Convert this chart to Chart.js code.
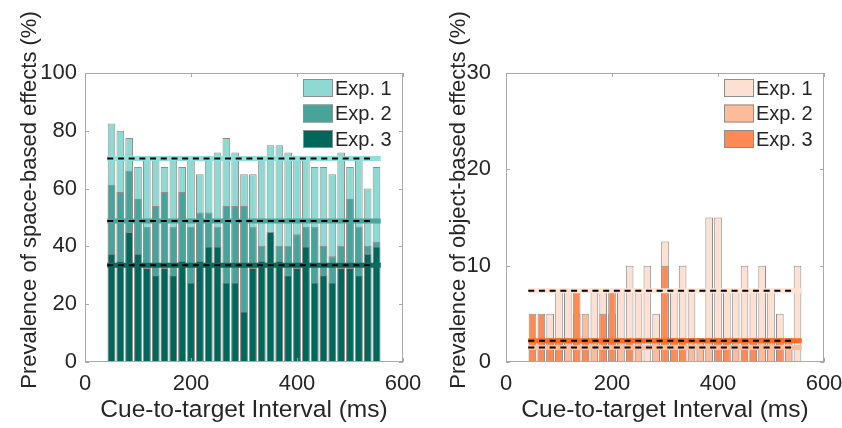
<!DOCTYPE html>
<html><head><meta charset="utf-8">
<script src="https://cdn.jsdelivr.net/npm/chart.js@4.4.1/dist/chart.umd.min.js"></script>
<style>
html,body{margin:0;padding:0;background:#fff;}
#wrap{position:relative;width:842px;height:428px;overflow:hidden;}
canvas{position:absolute;top:0;}
#c1{left:0;} #c2{left:421px;}
</style></head><body>
<div id="wrap"><canvas id="c1" width="421" height="428"></canvas><canvas id="c2" width="421" height="428"></canvas></div>
<script>
// ---- data ----
const intervals = [50, 66.7, 83.3, 100, 116.7, 133.3, 150, 166.7, 183.3, 200, 216.7, 233.3, 250, 266.7, 283.3, 300, 316.7, 333.3, 350, 366.7, 383.3, 400, 416.7, 433.3, 450, 466.7, 483.3, 500, 516.7, 533.3, 550];
const seriesNames = ['Exp. 1', 'Exp. 2', 'Exp. 3'];

const spaceExp1 = [82.5, 80, 77.5, 67.5, 70, 70, 67.5, 70, 67.5, 70, 65, 70, 72.5, 77.5, 72.5, 65, 65, 70, 75, 75, 72.5, 70, 70, 67.5, 67.5, 65, 72.5, 67.5, 70, 60, 67.5];
const spaceExp2 = [61.3, 58.8, 66.2, 56.4, 46.8, 54, 58.8, 46.8, 58.8, 46.8, 51.7, 51.7, 46.8, 54, 54, 54, 46.8, 40.2, 44, 40.2, 40.2, 44.2, 46.8, 46.8, 40.2, 36.6, 40.2, 56.4, 46.8, 40.2, 41.6];
const spaceExp3 = [37.5, 35, 45, 37.5, 32.5, 30, 32.5, 30, 35, 27.5, 35, 40, 40, 27.5, 27.5, 17.5, 32.5, 35, 45, 35, 30, 32.5, 40, 27.5, 30, 27.5, 32.5, 32.5, 30, 37.5, 40];
const spaceMeans = [70.4, 48.8, 33.5];

const objectExp1 = [2.5, 2.5, 5, 7.5, 7.5, 5, 2.5, 7.5, 7.5, 5, 7.5, 10, 7.5, 10, 5, 12.5, 7.5, 10, 7.5, 2.5, 15, 15, 7.5, 7.5, 10, 7.5, 10, 7.5, 5, 2.5, 10];
const objectExp2 = [0, 0, 2.5, 2.5, 2.5, 0, 5, 2.5, 0, 0, 2.5, 0, 2.5, 0, 2.5, 0, 2.5, 0, 2.5, 2.5, 2.5, 0, 0, 2.5, 0, 2.5, 2.5, 2.5, 0, 2.5, 0];
const objectExp3 = [5, 5, 2.5, 2.5, 0, 7.5, 2.5, 0, 5, 7.5, 0, 2.5, 0, 0, 0, 10, 2.5, 2.5, 0, 0, 0, 2.5, 2.5, 0, 2.5, 2.5, 0, 0, 2.5, 0, 0];
const objectMeans = [7.4, 1.5, 2.2];

const meanLineStart = 42, meanLineEnd = 558, meanDashEnd = 542;
const xTicksMax = 600, xStep = 200;

// ---- styling ----
const FAMILY = "'Liberation Sans', Arial, Helvetica, sans-serif";
const TXT = '#262626';
const FRAME = '#a9a9a9';
const BAR_EDGE = '#8e8e8e';
Chart.defaults.font.family = FAMILY;

const framePlugin = {
  id: 'frameLegend',
  afterDatasetsDraw(chart, args, opts) {
    const {ctx, chartArea: a, scales: {x, y}} = chart;
    ctx.save();
    ctx.strokeStyle = FRAME; ctx.lineWidth = 1;
    ctx.strokeRect(a.left + 0.5, a.top + 0.5, a.right - a.left - 1, a.bottom - a.top - 1);
    const tl = 4;
    ctx.beginPath();
    x.ticks.forEach(t => {
      const px = Math.round(x.getPixelForValue(t.value)) + 0.5;
      ctx.moveTo(px, a.bottom); ctx.lineTo(px, a.bottom - tl);
      ctx.moveTo(px, a.top); ctx.lineTo(px, a.top + tl);
    });
    y.ticks.forEach(t => {
      const py = Math.round(y.getPixelForValue(t.value)) + 0.5;
      ctx.moveTo(a.left, py); ctx.lineTo(a.left + tl, py);
      ctx.moveTo(a.right, py); ctx.lineTo(a.right - tl, py);
    });
    ctx.stroke();
    // legend
    const bars = chart.data.datasets.filter(d => d.isBar);
    const lx = a.right - 100;
    const offs = [6, 31.5, 57];
    ctx.font = '20px ' + FAMILY;
    ctx.textBaseline = 'middle';
    ctx.textAlign = 'left';
    bars.forEach((d, i) => {
      const ly = a.top + offs[i];
      ctx.fillStyle = d.backgroundColor;
      ctx.fillRect(lx, ly, 30, 18);
      ctx.strokeStyle = BAR_EDGE;
      ctx.strokeRect(lx + 0.5, ly + 0.5, 29, 17);
      ctx.fillStyle = TXT;
      ctx.fillText(d.label, lx + 32, ly + 10);
    });
    // y axis title
    ctx.save();
    ctx.translate(opts.titleX, opts.titleY);
    ctx.rotate(-Math.PI / 2);
    ctx.font = '22px ' + FAMILY;
    ctx.textAlign = 'center';
    ctx.textBaseline = 'middle';
    ctx.fillStyle = TXT;
    ctx.fillText(opts.yTitle, 0, 0);
    ctx.restore();
    ctx.restore();
  }
};

function barSet(label, vals, color, order) {
  return {
    type: 'bar', isBar: true, label,
    data: intervals.map((xv, i) => ({x: xv, y: vals[i]})),
    backgroundColor: color, borderColor: BAR_EDGE, borderWidth: 1, borderSkipped: false,
    grouped: false, barPercentage: 0.87, categoryPercentage: 1, order
  };
}
function bandSet(m, color) {
  return {type: 'line', data: [{x: meanLineStart, y: m}, {x: meanLineEnd, y: m}],
    borderColor: color, borderWidth: 5, pointRadius: 0, order: 2, borderCapStyle: 'butt'};
}
function dashSet(m) {
  return {type: 'line', data: [{x: meanLineStart, y: m}, {x: meanDashEnd, y: m}],
    borderColor: '#000', borderWidth: 2, borderDash: [6, 4.7], pointRadius: 0, order: 1, borderCapStyle: 'butt'};
}

function makeChart(id, vals, means, colors, bands, ymax, ystep, ytitle, tickPad, titleX) {
  const ds = [
    barSet(seriesNames[0], vals[0], colors[0], 10),
    barSet(seriesNames[1], vals[1], colors[1], 9),
    barSet(seriesNames[2], vals[2], colors[2], 8),
  ];
  means.forEach((m, i) => { ds.push(bandSet(m, bands[i])); });
  means.forEach(m => { ds.push(dashSet(m)); });
  return new Chart(document.getElementById(id), {
    type: 'bar',
    data: {datasets: ds},
    options: {
      responsive: false, animation: false, devicePixelRatio: 1,
      layout: {padding: {left: 0, right: 18, top: 73, bottom: 0}},
      plugins: {legend: {display: false}, tooltip: {enabled: false},
        frameLegend: {yTitle: ytitle, titleX: titleX, titleY: 200}},
      scales: {
        x: {type: 'linear', min: 0, max: xTicksMax, offset: false,
          ticks: {stepSize: xStep, font: {size: 22}, color: TXT, padding: 9, maxRotation: 0},
          grid: {display: false, drawTicks: false}, border: {display: false},
          title: {display: true, text: 'Cue-to-target Interval (ms)', font: {size: 24.5}, color: TXT, padding: {top: 0, bottom: 3}},
          afterFit: s => { s.height = 66; s.paddingLeft = 0; s.paddingRight = 0; }},
        y: {type: 'linear', min: 0, max: ymax,
          ticks: {stepSize: ystep, font: {size: 22}, color: TXT, padding: tickPad},
          grid: {display: false, drawTicks: false}, border: {display: false},
          title: {display: false},
          afterFit: s => { s.width = 85; s.paddingTop = 0; s.paddingBottom = 0; }}
      }
    },
    plugins: [framePlugin]
  });
}

makeChart('c1', [spaceExp1, spaceExp2, spaceExp3], spaceMeans,
  ['#8ed9d2', '#48a49a', '#00685b'], ['#8fe0d9', '#4aa69c', '#0d6b60'],
  100, 20, 'Prevalence of space-based effects (%)', 8, 30);
makeChart('c2', [objectExp1, objectExp2, objectExp3], objectMeans,
  ['#fde0d2', '#fcbb9b', '#fc8a55'], ['#fde3d5', '#fdbc9c', '#ff6a1f'],
  30, 10, 'Prevalence of object-based effects (%)', 15, 38);
</script>
</body></html>
